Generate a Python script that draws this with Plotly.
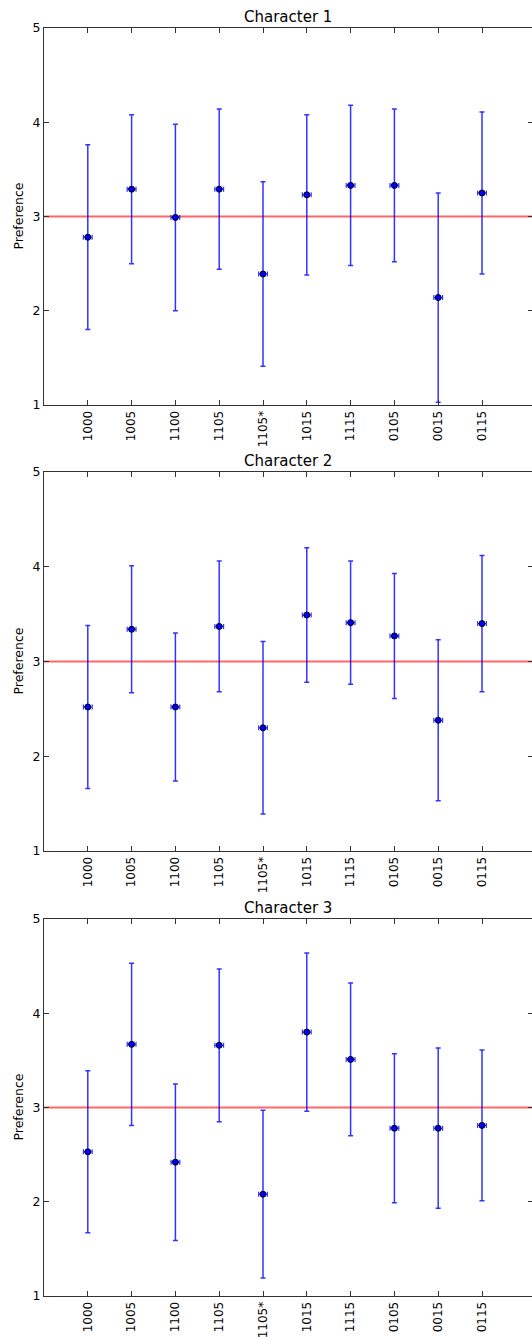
import plotly.graph_objects as go
from plotly.subplots import make_subplots

# ---- data ----
categories = ["1000", "1005", "1100", "1105", "1105*", "1015", "1115", "0105", "0015", "0115"]
titles = ["Character 1", "Character 2", "Character 3"]

char1_mean = [2.78, 3.29, 2.99, 3.29, 2.39, 3.23, 3.33, 3.33, 2.14, 3.25]
char1_err = [0.98, 0.79, 0.99, 0.85, 0.98, 0.85, 0.85, 0.81, 1.11, 0.86]

char2_mean = [2.52, 3.34, 2.52, 3.37, 2.30, 3.49, 3.41, 3.27, 2.38, 3.40]
char2_err = [0.86, 0.67, 0.78, 0.69, 0.91, 0.71, 0.65, 0.66, 0.85, 0.72]

char3_mean = [2.53, 3.67, 2.42, 3.66, 2.08, 3.80, 3.51, 2.78, 2.78, 2.81]
char3_err = [0.86, 0.86, 0.83, 0.81, 0.89, 0.84, 0.81, 0.79, 0.85, 0.80]

reference_level = 3
y_ticks = [1, 2, 3, 4, 5]

means = [char1_mean, char2_mean, char3_mean]
errs = [char1_err, char2_err, char3_err]
positions = list(range(1, len(categories) + 1))

# ---- layout geometry ----
W, H = 533, 1337
ML, MR, MT, MB = 44, 0, 28, 41
plot_h = H - MT - MB
panels_px = [(28, 405), (472, 851), (919, 1296)]


def to_paper(p):
    return (H - MB - p) / plot_h


fig = make_subplots(rows=3, cols=1)
FONT = "DejaVu Sans"

for i in range(3):
    r = i + 1
    fig.add_trace(
        go.Scatter(
            x=positions,
            y=means[i],
            mode="markers",
            marker=dict(color="#0000ff", size=6, line=dict(color="#000000", width=1)),
            error_y=dict(type="data", array=errs[i], visible=True,
                         color="rgba(0,0,255,0.8)", thickness=1.5, width=2.5),
            error_x=dict(type="constant", value=0.1, visible=True,
                         color="rgba(0,0,255,0.8)", thickness=1.2, width=2.5),
            showlegend=False,
            hoverinfo="x+y",
        ),
        row=r, col=1,
    )
    fig.add_hline(y=reference_level, line=dict(color="rgba(255,0,0,0.6)", width=2),
                  layer="below", row=r, col=1)

    top, bot = panels_px[i]
    xa = "xaxis" if i == 0 else f"xaxis{r}"
    ya = "yaxis" if i == 0 else f"yaxis{r}"
    fig.layout[xa].update(
        domain=[0, 1],
        range=[0, (W - ML - MR) / 43.8],
        tickmode="array", tickvals=positions, ticktext=categories,
        tickangle=-90,
        ticks="inside", ticklen=5, tickcolor="#333333",
        showline=True, linecolor="#333333", linewidth=1, mirror="ticks",
        showgrid=False, zeroline=False, automargin=False,
        tickfont=dict(family=FONT, size=12, color="#000000"),
    )
    fig.layout[ya].update(
        domain=[to_paper(bot), to_paper(top)],
        range=[1, 5],
        tickmode="array", tickvals=y_ticks,
        ticks="inside", ticklen=5, tickcolor="#333333",
        showline=True, linecolor="#333333", linewidth=1, mirror="ticks",
        showgrid=False, zeroline=False, automargin=False,
        tickfont=dict(family=FONT, size=12.5, color="#000000"),
    )
    # panel title
    fig.add_annotation(
        text=titles[i], xref="paper", yref="paper",
        x=(288 - ML) / (W - ML - MR), y=to_paper(top),
        xanchor="center", yanchor="bottom", yshift=0, showarrow=False,
        font=dict(family=FONT, size=15, color="#000000"),
    )
    # y-axis label
    fig.add_annotation(
        text="Preference", xref="paper", yref="paper",
        x=0, y=(to_paper(top) + to_paper(bot)) / 2,
        xanchor="center", yanchor="middle", xshift=-26, textangle=-90,
        showarrow=False,
        font=dict(family=FONT, size=12.5, color="#000000"),
    )

fig.update_layout(
    width=W, height=H,
    margin=dict(l=ML, r=MR, t=MT, b=MB, autoexpand=False),
    paper_bgcolor="white", plot_bgcolor="white",
    font=dict(family=FONT, color="#000000"),
)

fig.write_html(
    "out.html",
    config={"displayModeBar": False},
    post_script="document.body.style.margin='0';document.body.style.overflow='hidden';",
)
